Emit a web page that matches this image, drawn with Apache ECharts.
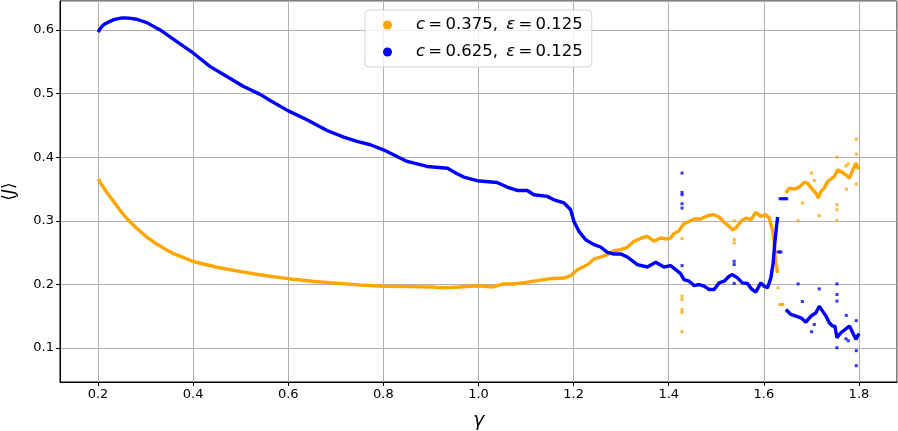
<!DOCTYPE html>
<html><head><meta charset="utf-8">
<script src="https://cdn.jsdelivr.net/npm/echarts@6/dist/echarts.min.js"></script>
<style>html,body{margin:0;padding:0;background:#fff}#c{width:898px;height:431px}</style>
</head><body><div id="c"></div>
<script>
const seriesNames = ['c = 0.375, ε = 0.125', 'c = 0.625, ε = 0.125'];
const colors = ['#ffa500', '#0000ff'];

// c = 0.375 main curve (null = gap)
const gammaOrange = [0.20,0.21,0.22,0.23,0.24,0.25,0.26,0.28,0.30,0.32,0.34,0.36,0.38,0.40,0.45,0.50,0.55,0.60,0.65,0.70,0.75,0.80,0.85,0.90,0.927,0.96,1.00,1.03,1.053,1.074,1.10,1.124,1.15,1.18,1.194,1.208,1.229,1.243,1.257,1.271,1.285,1.299,1.313,1.327,1.348,1.355,1.369,1.383,1.397,1.404,1.411,1.422,1.426,1.430,1.4393,1.4533,1.467,1.4814,1.4954,1.506,1.5165,1.527,1.534,1.541,1.5516,1.562,1.5726,1.583,1.5937,1.604,1.611,1.618,1.622,1.625,1.629,1.638,1.6463,1.6533,1.664,1.6744,1.685,1.692,1.7025,1.7095,1.7144,1.72,1.727,1.734,1.741,1.748,1.7516,1.755,1.762,1.7727,1.78,1.787,1.7937,1.80];
const jOrange = [0.366,0.354,0.343,0.333,0.323,0.313,0.304,0.289,0.276,0.265,0.256,0.248,0.242,0.236,0.227,0.220,0.214,0.209,0.205,0.202,0.199,0.197,0.1965,0.196,0.1945,0.196,0.198,0.196,0.2007,0.2007,0.2033,0.206,0.209,0.210,0.2138,0.2232,0.231,0.240,0.243,0.2468,0.253,0.2546,0.2583,0.2677,0.2745,0.2756,0.268,0.273,0.2714,0.273,0.2798,0.2845,0.286,0.294,0.2976,0.3028,0.3028,0.308,0.3096,0.306,0.2976,0.2913,0.286,0.2887,0.299,0.3043,0.3017,0.3132,0.307,0.3096,0.3043,0.286,0.265,0.234,0.218,null,0.3436,0.3514,0.3498,0.353,0.3603,0.3592,0.3488,0.3436,0.3357,0.346,0.3514,0.3618,0.3655,0.3697,0.3700,0.380,0.3775,0.3723,0.367,0.380,0.3906,0.3812];

// c = 0.625 main curve
const gammaBlue = [0.200,0.205,0.211,0.218,0.225,0.235,0.246,0.255,0.265,0.2815,0.3025,0.3305,0.3657,0.4006,0.4358,0.471,0.506,0.541,0.562,0.600,0.6393,0.6815,0.7165,0.7446,0.7726,0.800,0.8288,0.850,0.892,0.935,0.955,0.969,0.997,1.039,1.06,1.0815,1.1025,1.1165,1.1446,1.1586,1.18,1.1937,1.2007,1.2112,1.2253,1.2428,1.2568,1.271,1.285,1.299,1.313,1.334,1.355,1.3726,1.39,1.404,1.4147,1.425,1.432,1.4428,1.4533,1.464,1.4744,1.485,1.4954,1.506,1.5165,1.527,1.534,1.5446,1.555,1.5656,1.574,1.583,1.5937,1.6007,1.6077,1.6148,1.6196,1.623,1.6267,1.629,1.638,1.6463,1.657,1.6674,1.678,1.6884,1.699,1.7095,1.7165,1.7235,1.7306,1.7376,1.7446,1.7495,1.7537,1.762,1.7727,1.78,1.787,1.7937,1.80];
const jBlue = [0.5964,0.6025,0.6078,0.611,0.6135,0.6165,0.6183,0.619,0.6185,0.6168,0.6115,0.600,0.5817,0.5634,0.5424,0.5267,0.511,0.4987,0.489,0.4728,0.4587,0.442,0.4315,0.4247,0.4195,0.4116,0.4011,0.3933,0.3854,0.3825,0.374,0.3687,0.363,0.3603,0.353,0.3477,0.3477,0.341,0.3384,0.333,0.328,0.3174,0.299,0.2834,0.2703,0.2625,0.2588,0.2504,0.2478,0.248,0.2431,0.231,0.2274,0.2347,0.2274,0.2295,0.2233,0.217,0.2076,0.205,0.1982,0.1998,0.1972,0.192,0.192,0.2024,0.205,0.2129,0.2155,0.2103,0.2024,0.2014,0.193,0.1878,0.2024,0.1972,0.1946,0.2103,0.2338,0.265,0.2913,0.306,null,0.1606,0.1528,0.1502,0.1475,0.1407,0.1502,0.1554,0.1658,0.158,0.1502,0.1397,0.1345,0.1345,0.1162,0.124,0.1303,0.1345,0.124,0.1136,0.123];

// scattered points (outliers / short flat runs)
const outGammaOrange = [1.428,1.428,1.428,1.428,1.428,1.428,1.5376,1.5376,1.5376,1.630,1.634,1.636,1.638,1.640,1.672,1.681,1.7004,1.706,1.7165,1.7537,1.7537,1.7537,1.7537,1.7727,1.7776,1.7734,1.7944,1.7944,1.7944];
const outJOrange = [0.272,0.1815,0.1763,0.1606,0.156,0.1256,0.300,0.2704,0.265,0.1946,0.1684,0.1684,0.1684,0.1684,0.300,0.3279,0.3749,0.3634,0.308,0.400,0.3007,0.3174,0.3253,0.3864,0.3895,0.3498,0.4282,0.4047,0.3577];
const outGammaBlue = [1.428,1.428,1.428,1.428,1.428,1.428,1.5376,1.5376,1.5376,1.630,1.633,1.636,1.634,1.637,1.640,1.643,1.646,1.648,1.672,1.681,1.7004,1.706,1.7165,1.7537,1.7537,1.7537,1.7537,1.7727,1.7776,1.7734,1.7944,1.7944,1.7944];
const outJBlue = [0.375,0.3446,0.341,0.3268,0.320,0.2296,0.2364,0.2312,0.2014,0.251,0.251,0.251,0.3347,0.3347,0.3347,0.3347,0.3347,0.3347,0.2008,0.1731,0.1256,0.137,0.193,0.2008,0.1841,0.1737,0.1005,0.1146,0.1114,0.1512,0.143,0.0958,0.0722];

function pairs(xs, ys) { return xs.map((x, i) => [x, ys[i] === null ? '-' : ys[i]]); }

const font = 'DejaVu Sans';
const chart = echarts.init(document.getElementById('c'), null, {renderer: 'canvas'});
const mainX = [gammaOrange, gammaBlue], mainY = [jOrange, jBlue];
const outX = [outGammaOrange, outGammaBlue], outY = [outJOrange, outJBlue];
const series = [];
for (let k = 0; k < 2; k++) {
  series.push({
    name: seriesNames[k], type: 'line', data: pairs(mainX[k], mainY[k]),
    showSymbol: false, symbol: 'none', connectNulls: false, z: 2 + k * 2,
    lineStyle: {color: colors[k], width: 3.4}, itemStyle: {color: colors[k]}
  });
  series.push({
    name: seriesNames[k], type: 'scatter', data: pairs(outX[k], outY[k]),
    symbol: 'rect', symbolSize: 3, z: 3 + k * 2, itemStyle: {color: colors[k]}
  });
}
const legendText = {};
legendText[seriesNames[0]] = '{s| }{i|c}\u2009=\u20090.375,\u2002{i|ε}\u2009=\u20090.125';
legendText[seriesNames[1]] = '{s| }{i|c}\u2009=\u20090.625,\u2002{i|ε}\u2009=\u20090.125';
chart.setOption({
  animation: false,
  backgroundColor: '#fff',
  grid: {left: 60, right: 1, top: 1, bottom: 49, show: true, borderColor: '#000', borderWidth: 1,
    containLabel: false, outerBoundsMode: 'none'},
  xAxis: {
    type: 'value', min: 0.12, max: 1.88, splitNumber: 8,
    axisLine: {show: true, onZero: false, lineStyle: {color: '#000', width: 1}},
    axisTick: {show: true, length: 4, lineStyle: {color: '#000'}},
    axisLabel: {color: '#000', fontSize: 13, fontFamily: font, margin: 6, showMinLabel: false, showMaxLabel: false,
      formatter: v => v.toFixed(1)},
    splitLine: {show: true, lineStyle: {color: '#b0b0b0', width: 1}},
    name: 'γ', nameLocation: 'middle', nameGap: 30,
    nameTextStyle: {color: '#000', fontSize: 19, fontFamily: font, fontStyle: 'italic'}
  },
  yAxis: {
    type: 'value', min: 0.0466, max: 0.6455, splitNumber: 6,
    axisLine: {show: true, onZero: false, lineStyle: {color: '#000', width: 1}},
    axisTick: {show: true, length: 4, lineStyle: {color: '#000'}},
    axisLabel: {color: '#000', fontSize: 13, fontFamily: font, margin: 6, showMinLabel: false, showMaxLabel: false,
      formatter: v => v.toFixed(1)},
    splitLine: {show: true, lineStyle: {color: '#b0b0b0', width: 1}},
    name: '⟨{i|J}⟩', nameLocation: 'middle', nameGap: 42, nameRotate: 90,
    nameTextStyle: {color: '#000', fontSize: 17, fontFamily: font,
      rich: {i: {fontStyle: 'italic', fontSize: 17, fontFamily: font, color: '#000'}}}
  },
  legend: {
    orient: 'vertical', left: 365, top: 10, icon: 'circle', itemWidth: 9, itemHeight: 9, itemGap: 9,
    padding: [6, 9, 6, 18], backgroundColor: 'rgba(255,255,255,0.8)', borderColor: '#d4d4d4', borderWidth: 1, borderRadius: 4,
    data: seriesNames,
    formatter: name => legendText[name],
    textStyle: {color: '#000', fontSize: 16.5, fontFamily: font, lineHeight: 18,
      rich: {s: {width: 19, fontSize: 16.5}, i: {fontStyle: 'italic', fontSize: 16.5, fontFamily: font, color: '#000'}}}
  },
  series: series
});
</script></body></html>
